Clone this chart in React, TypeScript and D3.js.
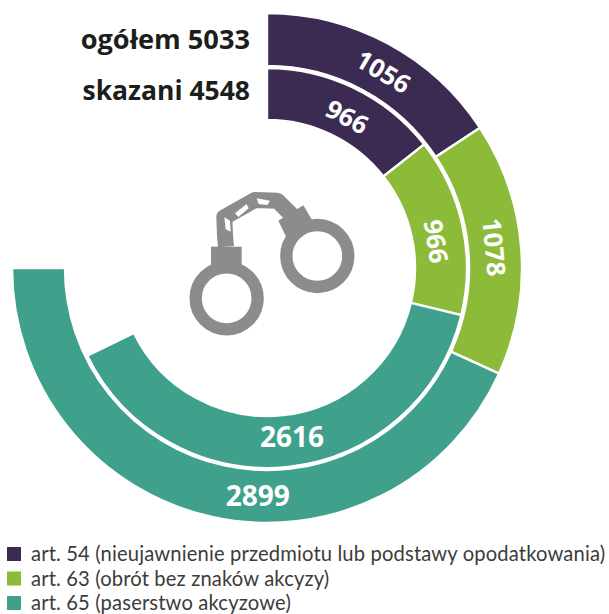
import React from "react";
import * as d3 from "d3";

const articles = ["art. 54", "art. 63", "art. 65"];
const legendLabels = [
  "art. 54 (nieujawnienie przedmiotu lub podstawy opodatkowania)",
  "art. 63 (obrót bez znaków akcyzy)",
  "art. 65 (paserstwo akcyzowe)",
];
const ogolem = [1056, 1078, 2899];
const skazani = [966, 966, 2616];
const totalOgolem = 5033;
const totalSkazani = 4548;
const colors = ["#3b2a52", "#8cbb3a", "#3fa18c"];

const width = 609;
const height = 614;
const cx = 267;
const cy = 268;
const grey = "#8c8c8c";

// labels do not sit exactly mid-segment in the original, nudged by degrees
const outerShift = [2.3, -0.8, 0];
const innerShift = [2, 3.3, 0];

const angle = d3.scaleLinear().domain([0, totalOgolem]).range([0, 270]);

function buildSegments(values: number[]) {
  let acc = 0;
  return values.map((v, i) => {
    const start = acc;
    acc += v;
    return { key: articles[i], value: v, start: angle(start), end: angle(acc), color: colors[i] };
  });
}

function Ring({ values, r0, r1, shifts, labelR }: any) {
  const arc = d3.arc<any>().innerRadius(r0).outerRadius(r1);
  const rad = Math.PI / 180;
  return (
    <g>
      {buildSegments(values).map((s, i) => {
        const mid = (s.start + s.end) / 2 + shifts[i];
        const isTeal = i === 2;
        // teal labels stay horizontal, placed at the bottom of the ring
        const a = isTeal ? (labelR > 200 ? 182.3 : 171.6) : mid;
        const x = labelR * Math.sin(a * rad);
        const y = -labelR * Math.cos(a * rad);
        return (
          <g key={s.key}>
            <path
              d={arc({ startAngle: s.start * rad, endAngle: s.end * rad }) as string}
              fill={s.color}
              stroke="#fff"
              strokeWidth={2.4}
            />
            <text
              transform={`translate(${x},${y}) rotate(${isTeal ? 0 : a})`}
              textAnchor="middle"
              dy="0.36em"
              fill="#fff"
              fontSize={isTeal ? 28 : 25.5}
              fontWeight={700}
            >
              {s.value}
            </text>
          </g>
        );
      })}
    </g>
  );
}

function Handcuffs() {
  // drawn in 3x units so it lines up with the crop I measured from
  return (
    <g transform="translate(180,180) scale(0.3333)">
      <path
        d="M138 200 L135 165 L133 112 L225 60 L292 62 L335 105"
        fill="none"
        stroke={grey}
        strokeWidth={48}
        strokeLinejoin="round"
      />
      <polygon points="93,200 185,200 185,275 93,275" fill={grey} />
      <polygon points="295,122 370,76 402,130 322,178" fill={grey} />
      <circle cx={140} cy={355} r={93} fill="none" stroke={grey} strokeWidth={37} />
      <circle cx={412} cy={228} r={93} fill="none" stroke={grey} strokeWidth={37} />
      <polygon points="133,112 150,122 152,155 137,148" fill="#fff" />
      <polygon points="165,100 200,72 206,85 175,111" fill="#fff" />
      <polygon points="230,55 270,62 262,75 236,72" fill="#fff" />
    </g>
  );
}

export default function App() {
  const legendY = [561, 585.5, 610];
  return (
    <svg
      width={width}
      height={height}
      style={{ position: "absolute", left: 0, top: 0, display: "block" }}
      fontFamily="'Open Sans', sans-serif"
    >
      <rect width={width} height={height} fill="#fff" />
      <g transform={`translate(${cx},${cy})`}>
        <Ring values={ogolem} r0={202} r1={255} shifts={outerShift} labelR={228} />
        <Ring values={skazani} r0={148} r1={200} shifts={innerShift} labelR={171} />
      </g>
      <text x={250} y={49} textAnchor="end" fontSize={27.2} fontWeight={700} fill="#1d1d1b">
        ogółem {totalOgolem}
      </text>
      <text x={250} y={100} textAnchor="end" fontSize={26.5} fontWeight={700} fill="#1d1d1b">
        skazani {totalSkazani}
      </text>
      <Handcuffs />
      {legendLabels.map((label, i) => (
        <g key={label}>
          <rect x={7} y={legendY[i] - 14} width={14} height={14} fill={colors[i]} />
          <text
            x={31}
            y={legendY[i]}
            fontFamily="Lato, sans-serif"
            fontSize={20.2}
            letterSpacing={0.14}
            fill="#3c3c3b"
          >
            {label}
          </text>
        </g>
      ))}
    </svg>
  );
}
